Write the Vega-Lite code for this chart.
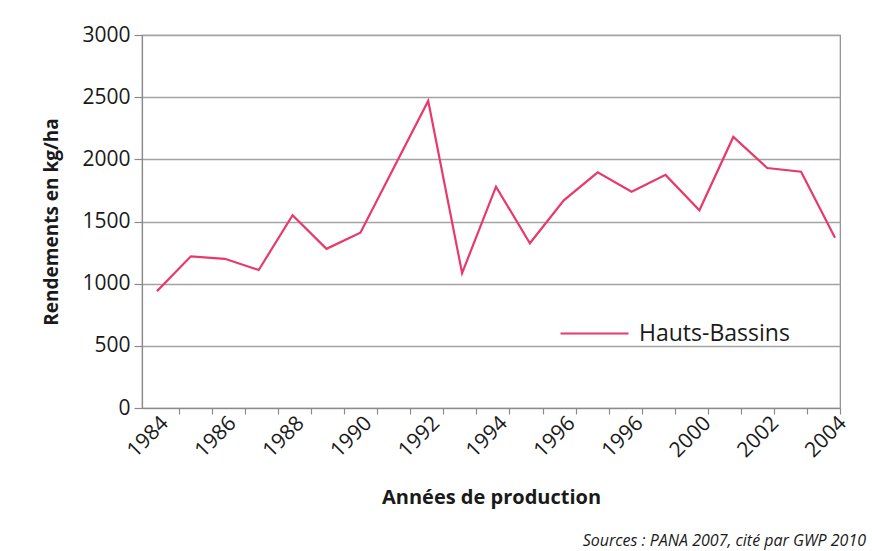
{
  "$schema": "https://vega.github.io/schema/vega-lite/v6.json",
  "autosize": {"type": "none"},
  "padding": {"left": 142, "top": 35, "right": 32, "bottom": 143},
  "width": 698,
  "height": 373,
  "background": "white",
  "config": {
    "font": "Open Sans",
    "view": {"stroke": "#8a8a8a", "strokeWidth": 1.2},
    "axis": {"labelColor": "#1a1a1a", "titleColor": "#1a1a1a", "labelFont": "Open Sans", "titleFont": "Open Sans"}
  },
  "title": {
    "text": "Sources : PANA 2007, cité par GWP 2010",
    "orient": "bottom",
    "anchor": "end",
    "frame": "group",
    "font": "Open Sans",
    "fontSize": 16,
    "fontStyle": "italic",
    "fontWeight": "normal",
    "color": "#1a1a1a",
    "offset": 25,
    "dx": 26
  },
  "data": {
    "values": [
      {"annee": 1984, "rendement": 940},
      {"annee": 1985, "rendement": 1220},
      {"annee": 1986, "rendement": 1200},
      {"annee": 1987, "rendement": 1110},
      {"annee": 1988, "rendement": 1550},
      {"annee": 1989, "rendement": 1280},
      {"annee": 1990, "rendement": 1410},
      {"annee": 1991, "rendement": 1940},
      {"annee": 1992, "rendement": 2470},
      {"annee": 1993, "rendement": 1085},
      {"annee": 1994, "rendement": 1780},
      {"annee": 1995, "rendement": 1325},
      {"annee": 1996, "rendement": 1670},
      {"annee": 1997, "rendement": 1895},
      {"annee": 1998, "rendement": 1740},
      {"annee": 1999, "rendement": 1875},
      {"annee": 2000, "rendement": 1590},
      {"annee": 2001, "rendement": 2180},
      {"annee": 2002, "rendement": 1930},
      {"annee": 2003, "rendement": 1900},
      {"annee": 2004, "rendement": 1370}
    ]
  },
  "layer": [
    {
      "mark": {"type": "line", "strokeWidth": 2.2},
      "encoding": {
        "x": {
          "field": "annee",
          "type": "quantitative",
          "scale": {"domain": [1983.5575, 2004.1475], "nice": false, "zero": false},
          "axis": {
            "orient": "bottom",
            "values": [1984.649, 1985.624, 1986.599, 1987.574, 1988.549, 1989.524, 1990.499, 1991.474, 1992.448, 1993.423, 1994.398, 1995.373, 1996.348, 1997.323, 1998.298, 1999.273, 2000.248, 2001.223, 2002.198, 2003.173, 2004.147],
            "labels": false,
            "ticks": true,
            "tickSize": 6,
            "tickColor": "#8a8a8a",
            "tickWidth": 1.2,
            "domain": true,
            "domainColor": "#8a8a8a",
            "domainWidth": 1.2,
            "grid": false,
            "title": null
          }
        },
        "y": {
          "field": "rendement",
          "type": "quantitative",
          "scale": {"domain": [0, 3000], "nice": false},
          "axis": {
            "values": [0, 500, 1000, 1500, 2000, 2500, 3000],
            "format": "d",
            "grid": true,
            "gridColor": "#a3a3a3",
            "gridWidth": 1.6,
            "domainColor": "#8a8a8a",
            "domainWidth": 1.2,
            "tickColor": "#8a8a8a",
            "tickWidth": 1.2,
            "tickSize": 8,
            "labelPadding": 4,
            "labelFontSize": 21,
            "title": "Rendements en kg/ha",
            "titleFontSize": 19,
            "titleFontWeight": "bold",
            "titlePadding": 20
          }
        },
        "color": {
          "datum": "Hauts-Bassins",
          "scale": {"range": ["#e8396b"]},
          "legend": {
            "orient": "none",
            "legendX": 417,
            "legendY": 263,
            "title": null,
            "padding": 0,
            "symbolType": "stroke",
            "symbolSize": 4624,
            "symbolStrokeWidth": 2.2,
            "labelFont": "Open Sans",
            "labelFontSize": 23,
            "labelColor": "#1a1a1a",
            "labelOffset": 9
          }
        }
      }
    },
    {
      "mark": {"type": "point", "opacity": 0},
      "encoding": {
        "x": {
          "field": "annee",
          "type": "quantitative",
          "scale": {"domain": [1983.5575, 2004.1475], "nice": false, "zero": false},
          "axis": {
            "orient": "bottom",
            "values": [1984, 1986, 1988, 1990, 1992, 1994, 1996, 1998, 2000, 2002, 2004],
            "format": "d",
            "labelExpr": "datum.value == 1998 ? '1996' : datum.label",
            "ticks": false,
            "domain": false,
            "grid": false,
            "labelAngle": -45,
            "labelFontSize": 21,
            "labelPadding": 4,
            "labelFlush": false,
            "labelOverlap": false,
            "title": "Années de production",
            "titleFontSize": 20,
            "titleFontWeight": "bold",
            "titlePadding": 27
          }
        },
        "y": {
          "field": "rendement",
          "type": "quantitative",
          "scale": {"domain": [0, 3000], "nice": false},
          "axis": {
            "values": [0, 500, 1000, 1500, 2000, 2500, 3000],
            "format": "d",
            "grid": true,
            "gridColor": "#a3a3a3",
            "gridWidth": 1.6,
            "domainColor": "#8a8a8a",
            "domainWidth": 1.2,
            "tickColor": "#8a8a8a",
            "tickWidth": 1.2,
            "tickSize": 8,
            "labelPadding": 4,
            "labelFontSize": 21,
            "title": "Rendements en kg/ha",
            "titleFontSize": 19,
            "titleFontWeight": "bold",
            "titlePadding": 20
          }
        }
      }
    }
  ],
  "resolve": {"axis": {"x": "independent"}}
}
